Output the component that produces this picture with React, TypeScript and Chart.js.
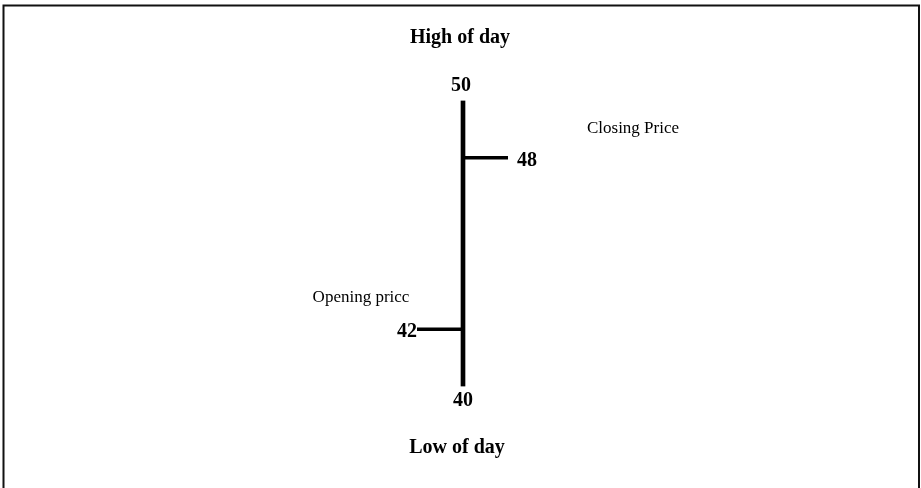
import React, { useEffect, useRef } from "react";
import { Chart, registerables } from "chart.js";

Chart.register(...registerables);

const days = ["Day"];
const highs = [50];
const lows = [40];
const opens = [42];
const closes = [48];
const titleHigh = "High of day";
const titleLow = "Low of day";
const openLabel = "Opening pricc";
const closeLabel = "Closing Price";

const BOLD = 'bold 20px "Liberation Serif", "Times New Roman", serif';
const REG = '17px "Liberation Serif", "Times New Roman", serif';

const ohlcPlugin = {
  id: "ohlcPlugin",
  beforeDraw(chart: any) {
    const ctx = chart.ctx;
    ctx.save();
    ctx.fillStyle = "#ffffff";
    ctx.fillRect(0, 0, chart.width, chart.height);
    ctx.strokeStyle = "#111";
    ctx.lineWidth = 2;
    ctx.beginPath();
    ctx.moveTo(3.5, chart.height + 10);
    ctx.lineTo(3.5, 5.5);
    ctx.lineTo(919, 5.5);
    ctx.lineTo(919, chart.height + 10);
    ctx.stroke();
    ctx.restore();
  },
  afterDatasetsDraw(chart: any) {
    const ctx = chart.ctx;
    const y = chart.scales.y;
    const meta = chart.getDatasetMeta(0);
    ctx.save();
    days.forEach((_, i) => {
      const el = meta.data[i];
      const x = el.x;
      const yH = y.getPixelForValue(highs[i]);
      const yL = y.getPixelForValue(lows[i]);
      const yO = y.getPixelForValue(opens[i]);
      const yC = y.getPixelForValue(closes[i]);
      ctx.strokeStyle = "#000";
      ctx.lineWidth = 3.5;
      ctx.lineCap = "butt";
      ctx.beginPath();
      ctx.moveTo(x - 46, yO);
      ctx.lineTo(x, yO);
      ctx.moveTo(x, yC);
      ctx.lineTo(x + 45, yC);
      ctx.stroke();

      ctx.fillStyle = "#000";
      ctx.font = BOLD;
      ctx.textBaseline = "middle";
      ctx.textAlign = "center";
      ctx.fillText(String(highs[i]), x - 2, yH - 15);
      ctx.fillText(String(lows[i]), x, yL + 14);
      ctx.fillText(titleHigh, x - 3, yH - 63);
      ctx.fillText(titleLow, x - 6, yL + 61);
      ctx.textAlign = "left";
      ctx.fillText(String(closes[i]), x + 54, yC + 3);
      ctx.textAlign = "right";
      ctx.fillText(String(opens[i]), x - 46, yO + 3);

      ctx.font = REG;
      ctx.textAlign = "center";
      ctx.fillText(closeLabel, x + 170, yH + 28);
      ctx.fillText(openLabel, x - 102, yL - 89);
    });
    ctx.restore();
  },
};

export default function App() {
  const ref = useRef<HTMLCanvasElement | null>(null);
  useEffect(() => {
    if (!ref.current) return;
    const chart = new Chart(ref.current, {
      type: "bar",
      data: {
        labels: days,
        datasets: [
          {
            data: days.map((_, i) => [lows[i], highs[i]] as any),
            backgroundColor: "#000",
            borderWidth: 0,
            barThickness: 4,
          },
        ],
      },
      options: {
        responsive: false,
        animation: false,
        layout: { padding: { top: 100.5, bottom: 101.5, left: 5, right: 0 } },
        plugins: { legend: { display: false }, tooltip: { enabled: false }, title: { display: false } },
        scales: {
          x: { display: false },
          y: { display: false, min: 40, max: 50 },
        },
      },
      plugins: [ohlcPlugin],
    });
    return () => chart.destroy();
  }, []);
  return (
    <div style={{ position: "absolute", left: 0, top: 0, width: 921, height: 488, background: "#fff" }}>
      <canvas ref={ref} width={921} height={488} style={{ display: "block" }} />
    </div>
  );
}
